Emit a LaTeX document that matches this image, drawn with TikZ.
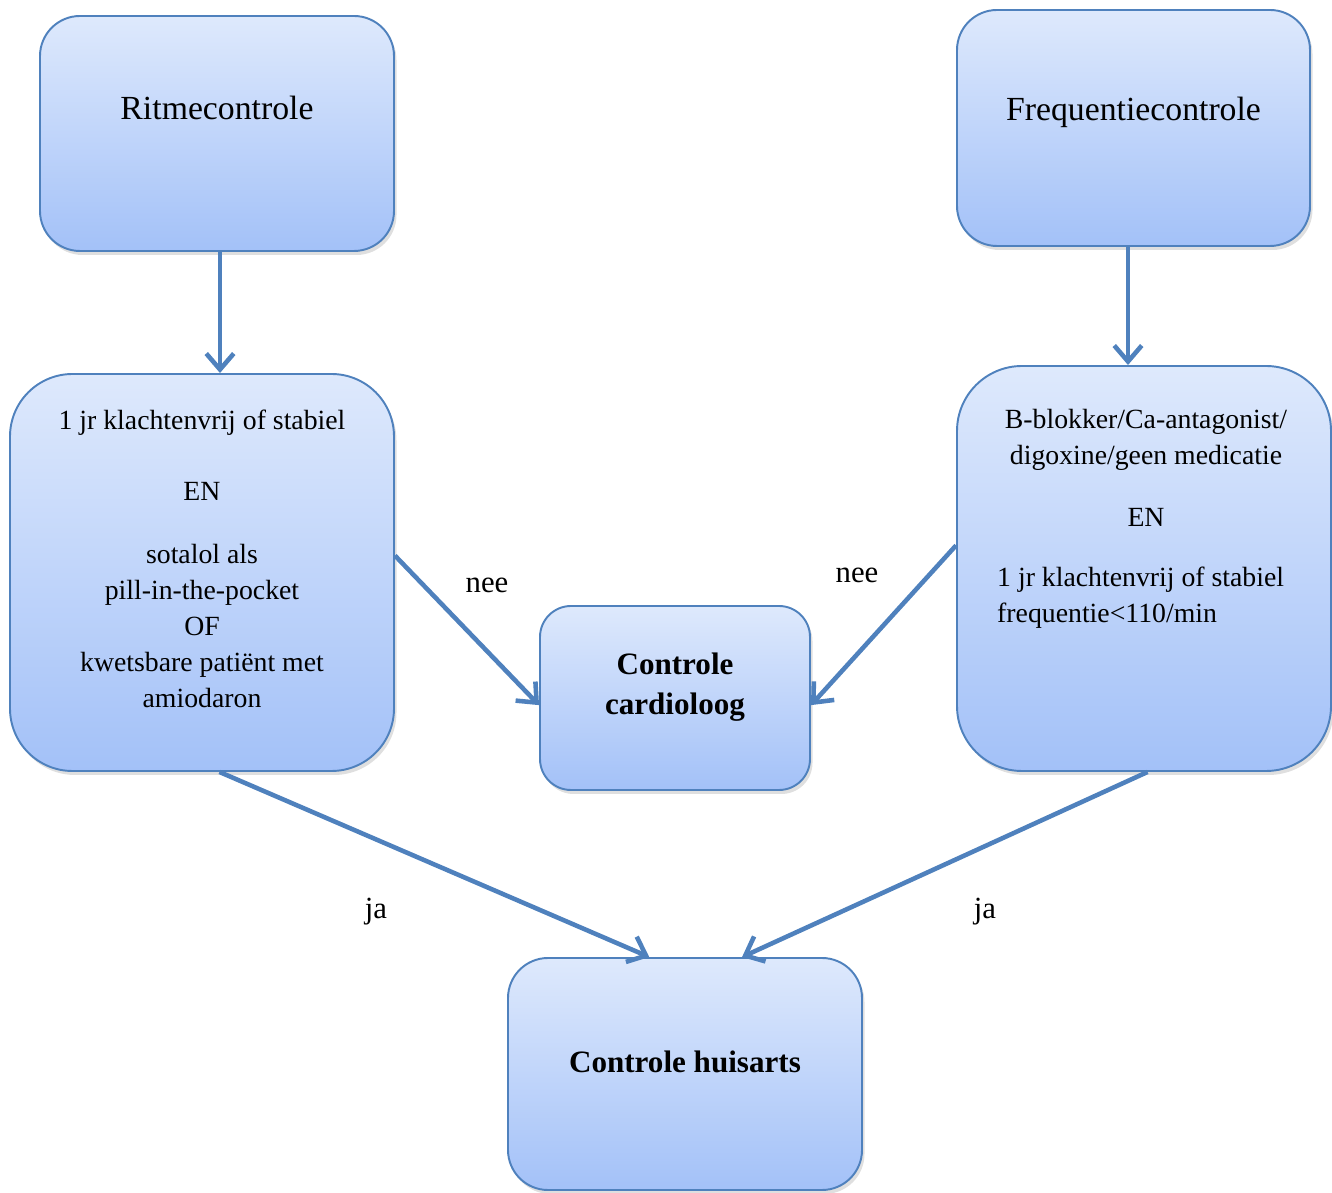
\documentclass[tikz,border=0pt]{standalone}
\usepackage{fontspec}
\setmainfont{Liberation Serif}
\usetikzlibrary{arrows.meta,shadows}

\definecolor{boxtop}{HTML}{DEE9FC}
\definecolor{boxbot}{HTML}{A3C1F8}
\definecolor{boxline}{HTML}{4F81BD}

\tikzset{
  box/.style={draw=boxline, line width=1.1pt, top color=boxtop, bottom color=boxbot,
    drop shadow={opacity=0.25, shadow xshift=0.05cm, shadow yshift=-0.08cm}},
  pijl/.style={draw=boxline, line width=2.6pt, -{Straight Barb[length=0.32cm, width=0.55cm, line width=2.6pt]}},
  body/.style={font=\fontsize{15.8}{20.4}\selectfont, align=center},
  kop/.style={font=\fontsize{19.2}{23}\selectfont},
  vet/.style={font=\fontsize{17.7}{22.7}\selectfont\bfseries, align=center},
  lbl/.style={font=\fontsize{17.5}{20}\selectfont}
}

\begin{document}
\begin{tikzpicture}
  \useasboundingbox (0,0) rectangle (26.64,23.84);

  % Boxes
  \node[box, rounded corners=0.8cm, minimum width=7.08cm, minimum height=4.70cm] (ritme) at (4.34,21.17) {};
  \node[box, rounded corners=0.8cm, minimum width=7.06cm, minimum height=4.72cm] (freq) at (22.67,21.28) {};
  \node[box, rounded corners=1.25cm, minimum width=7.68cm, minimum height=7.94cm] (cond1) at (4.04,12.39) {};
  \node[box, rounded corners=1.3cm, minimum width=7.48cm, minimum height=8.10cm] (cond2) at (22.88,12.47) {};
  \node[box, rounded corners=0.62cm, minimum width=5.40cm, minimum height=3.68cm] (cardio) at (13.5,9.88) {};
  \node[box, rounded corners=0.8cm, minimum width=7.08cm, minimum height=4.64cm] (huis) at (13.7,2.36) {};

  % Texts
  \node[kop] (ritmetxt) at (4.34,21.68) {Ritmecontrole};
  \node[kop] (freqtxt) at (22.67,21.6) {Frequentiecontrole};
  \node[body] (cond1txt) at (4.04,12.67) {1 jr klachtenvrij of stabiel\\[0.72cm]
    EN\\[0.54cm]
    sotalol als\\ pill-in-the-pocket\\ OF\\ kwetsbare patiënt met\\ amiodaron};
  \node[body] (cond2txt) at (22.92,14.48) {B-blokker/Ca-antagonist/\\ digoxine/geen medicatie\\[0.52cm] EN};
  \node[body, align=left, anchor=west] (cond2txtb) at (19.82,11.89) {1 jr klachtenvrij of stabiel\\ frequentie<110/min};
  \node[vet] (cardiotxt) at (13.5,10.1) {Controle\\ cardioloog};
  \node[vet] (huistxt) at (13.7,2.6) {Controle huisarts};

  % Arrows
  \draw[pijl] ([xshift=0.06cm]ritme.south) -- ([xshift=0.06cm]ritme.south |- cond1.north);
  \draw[pijl] ([xshift=-0.11cm]freq.south) -- ([xshift=-0.11cm]freq.south |- cond2.north);
  \draw[pijl] (cond1.5) -- (cardio.183);
  \draw[pijl] (cond2.173) -- (cardio.-3);
  \draw[pijl] (cond1.-85) -- (huis.107);
  \draw[pijl] (cond2.-89) -- (huis.64);

  % Labels
  \node[lbl] (nee1) at (9.74,12.14) {nee};
  \node[lbl] (nee2) at (17.14,12.34) {nee};
  \node[lbl] (ja1) at (7.52,5.6) {ja};
  \node[lbl] (ja2) at (19.7,5.6) {ja};
\end{tikzpicture}
\end{document}
